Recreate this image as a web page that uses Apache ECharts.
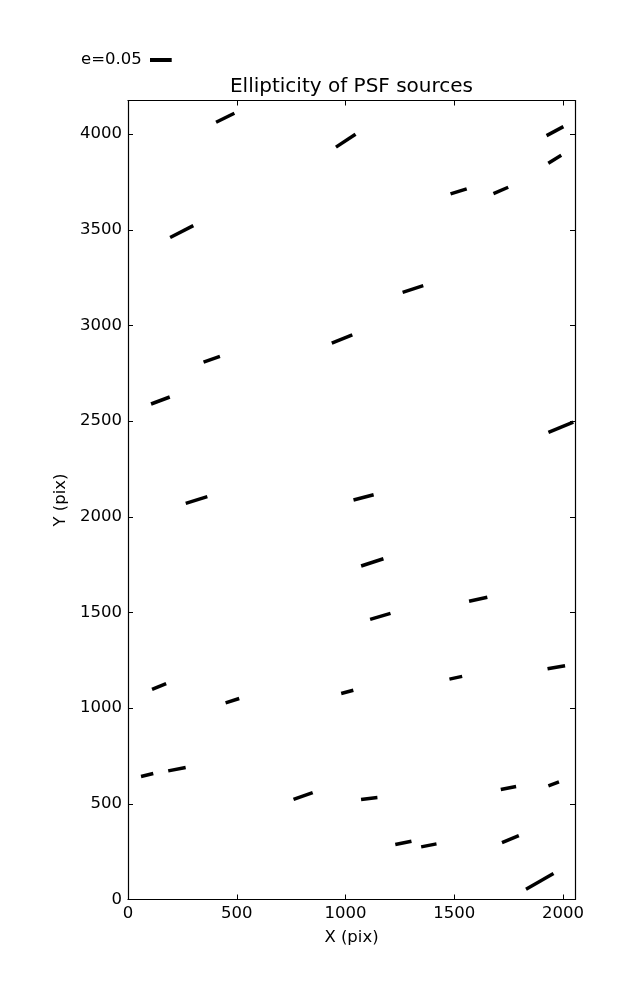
<!DOCTYPE html>
<html>
<head>
<meta charset="utf-8">
<script src="https://cdn.jsdelivr.net/npm/echarts@6/dist/echarts.min.js"></script>
<style>html,body{margin:0;padding:0;background:#fff;}#c{width:637px;height:1000px;}</style>
</head>
<body>
<div id="c"></div>
<script>
// Source positions (pix), ellipticity and position angle (deg, from +X towards +Y)
const srcX = [447, 1001, 1963, 1962, 1520, 1714, 247, 1310, 984, 385, 149, 1990, 315, 1083, 1123, 1160,
              1610, 143, 480, 1008, 1507, 1969, 88, 225, 805, 1109, 1266, 1383, 1749, 1957, 1758, 1893];
const srcY = [4086, 3966, 4016, 3869, 3701, 3706, 3491, 3191, 2929, 2824, 2608, 2468, 2088, 2102, 1762, 1480,
              1569, 1113, 1039, 1085, 1159, 1214, 651, 681, 541, 528, 296, 283, 583, 604, 316, 95];
const srcE = [0.047, 0.054, 0.044, 0.035, 0.039, 0.037, 0.060, 0.050, 0.051, 0.040, 0.046, 0.062, 0.052, 0.048, 0.054, 0.049,
              0.043, 0.035, 0.033, 0.029, 0.030, 0.041, 0.029, 0.041, 0.047, 0.038, 0.038, 0.036, 0.036, 0.026, 0.042, 0.073];
const srcAng = [26.2, 33.4, 28.3, 31.6, 17.4, 23.3, 27.2, 17.9, 22.0, 19.2, 20.5, 22.4, 17.0, 14.6, 18.2, 16.5,
                12.3, 21.8, 18.0, 15.0, 12.0, 9.6, 13.7, 11.0, 19.8, 7.0, 11.7, 11.0, 11.0, 20.5, 22.7, 29.9];
const keyE = 0.05;
const xTicks = [0, 500, 1000, 1500, 2000];
const yTicks = [0, 500, 1000, 1500, 2000, 2500, 3000, 3500, 4000];

const KEY_PX = 21.7; // pixel length of the e=0.05 key
const data = srcX.map((x, i) => [x, srcY[i], srcE[i], srcAng[i]]);
const FONT = 'DejaVu Sans';
const FS = 16.5;

const chart = echarts.init(document.getElementById('c'), null, {renderer: 'canvas'});
const tickFmt = arr => v => (arr.indexOf(v) >= 0 ? String(v) : '');
const baseAxis = {
  axisLine: {show: true, onZero: false, lineStyle: {color: '#000', width: 1.2}},
  axisTick: {show: true, inside: true, length: 5, lineStyle: {color: '#000', width: 1}},
  splitLine: {show: false},
  nameTextStyle: {color: '#000', fontFamily: FONT, fontSize: FS},
};
chart.setOption({
  animation: false,
  backgroundColor: '#fff',
  grid: {left: 128, right: 62, top: 100.5, bottom: 100.5, containLabel: false},
  xAxis: [
    Object.assign({}, baseAxis, {type: 'value', position: 'bottom', min: 0, max: 2055, interval: 500,
      name: 'X (pix)', nameLocation: 'middle', nameGap: 30,
      axisLabel: {color: '#000', fontFamily: FONT, fontSize: FS, margin: 6, formatter: tickFmt(xTicks)}}),
    Object.assign({}, baseAxis, {type: 'value', position: 'top', min: 0, max: 2055, interval: 500,
      axisLabel: {show: false}})
  ],
  yAxis: [
    Object.assign({}, baseAxis, {type: 'value', position: 'left', min: 0, max: 4176, interval: 500,
      name: 'Y (pix)', nameLocation: 'middle', nameGap: 56, nameRotate: 90,
      axisLabel: {color: '#000', fontFamily: FONT, fontSize: FS, margin: 6, formatter: tickFmt(yTicks)}}),
    Object.assign({}, baseAxis, {type: 'value', position: 'right', min: 0, max: 4176, interval: 500,
      axisLabel: {show: false}})
  ],
  graphic: [
    {type: 'text', x: 81, y: 60, style: {text: 'e=0.05', fill: '#000', font: FS + 'px "DejaVu Sans"',
      textAlign: 'left', textVerticalAlign: 'middle'}},
    {type: 'line', shape: {x1: 150, y1: 60, x2: 150 + KEY_PX * keyE / 0.05, y2: 60},
      style: {stroke: '#000', lineWidth: 4}},
    {type: 'text', x: 351.5, y: 87, style: {text: 'Ellipticity of PSF sources', fill: '#000',
      font: '20px "DejaVu Sans"', textAlign: 'center', textVerticalAlign: 'middle'}}
  ],
  series: [{
    type: 'custom',
    xAxisIndex: 0, yAxisIndex: 0,
    data: data,
    renderItem: function (params, api) {
      const c = api.coord([api.value(0), api.value(1)]);
      const half = api.value(2) / keyE * KEY_PX / 2;
      const a = api.value(3) * Math.PI / 180;
      const dx = half * Math.cos(a), dy = half * Math.sin(a);
      return {type: 'line', shape: {x1: c[0] - dx, y1: c[1] + dy, x2: c[0] + dx, y2: c[1] - dy},
        style: {stroke: '#000', lineWidth: 3.5, lineCap: 'butt'}};
    }
  }]
});
</script>
</body>
</html>
